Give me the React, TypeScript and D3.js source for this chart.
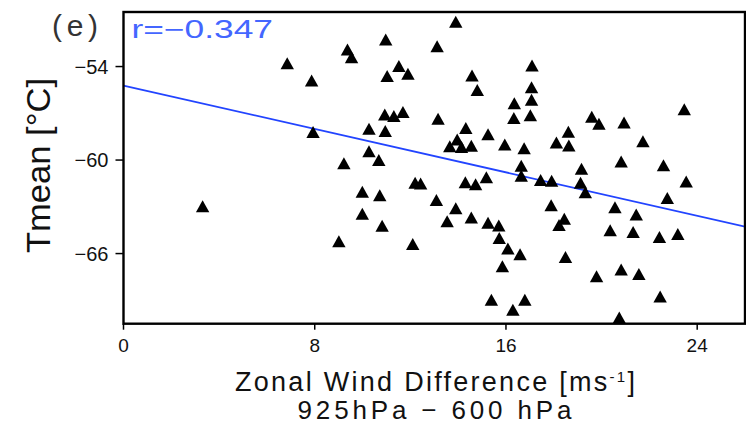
import React from "react";
import * as d3 from "d3";

// Zonal wind difference (925 hPa − 600 hPa), m/s
const windDiff = [
  3.31, 6.85, 7.87, 7.93, 9.37, 9.54, 10.27, 10.27, 10.68, 9.22,
  9.99, 9.99, 9.01, 10.72, 10.82, 10.97, 13.12, 13.9, 11.52, 11.03,
  11.9, 14.58, 14.8, 10.93, 11.31, 11.69, 10.95, 13.16, 14.32, 15.25,
  13.96, 13.65, 14.14, 14.55, 15.95, 16.76, 16.35, 16.33, 17.09, 17.07,
  17.07, 17.02, 16.64, 16.64, 12.2, 12.43, 14.3, 14.73, 15.18, 13.09,
  13.9, 13.54, 14.55, 15.25, 15.7, 15.72, 16.08, 16.59, 15.85, 12.1,
  15.39, 16.29, 16.79, 17.45, 17.91, 19.16, 19.12, 19.32, 20.82, 22.59,
  23.54, 17.89, 18.44, 18.22, 20.56, 21.45, 22.75, 20.36, 21.32, 22.42,
  23.19, 18.49, 19.79, 20.82, 21.56, 22.45, 20.74, 19.59, 19.89, 20.94,
  23.46, 18.61, 18.11, 18.63, 21.73,
];

// Mean temperature, °C
const tmean = [
  -62.97, -53.79, -54.9, -58.2, -52.91, -53.4, -57.99, -59.43, -59.99, -60.21,
  -62.04, -63.45, -65.21, -62.26, -64.22, -52.27, -52.69, -51.12, -53.97, -54.61,
  -54.47, -54.58, -55.51, -57.07, -57.17, -56.91, -58.14, -57.35, -57.95, -58.34,
  -58.68, -59.12, -59.17, -59.08, -59.0, -59.25, -56.35, -57.3, -53.94, -55.33,
  -56.13, -57.12, -60.37, -61.01, -61.45, -61.5, -61.43, -61.56, -61.11, -62.56,
  -63.1, -63.93, -63.69, -64.03, -64.2, -65.0, -65.68, -66.04, -66.81, -65.38,
  -68.97, -69.6, -68.97, -61.28, -61.32, -60.55, -61.46, -62.07, -60.09, -60.34,
  -61.37, -62.9, -63.76, -64.17, -63.03, -63.49, -62.44, -64.51, -64.61, -64.94,
  -64.74, -66.22, -67.45, -67.02, -67.31, -68.75, -70.1, -57.22, -57.67, -57.59,
  -56.74, -58.18, -58.87, -59.06, -58.79,
];

const xTicks = [0, 8, 16, 24];
const yTicks = [-54, -60, -66];

// Least-squares fit Tmean = a + b * windDiff
const fitIntercept = -55.22;
const fitSlope = -0.348;
const correlationLabel = "r=\u22120.347";

const W = 746;
const H = 425;
const plot = { left: 123.5, right: 745, top: 12, bottom: 323.7 };
const font = "'Liberation Sans', Arial, sans-serif";

export default function App() {
  const x = d3.scaleLinear().domain([0, 26]).range([plot.left, plot.right]);
  const y = d3.scaleLinear().domain([-70.5, -50.5]).range([plot.bottom, plot.top]);

  const fitLine = d3
    .line<number>()
    .x((d) => x(d))
    .y((d) => y(fitIntercept + fitSlope * d));

  const tri = (cx: number, cy: number) => {
    const p = d3.path();
    p.moveTo(cx - 6.7, cy + 6);
    p.lineTo(cx + 6.7, cy + 6);
    p.lineTo(cx, cy - 6);
    p.closePath();
    return p.toString();
  };

  return (
    <div style={{ position: "fixed", left: 0, top: 0 }}>
      <svg width={W} height={H} style={{ display: "block", background: "#fff" }}>
        <defs>
          <clipPath id="plotClip">
            <rect
              x={plot.left}
              y={plot.top}
              width={plot.right - plot.left}
              height={plot.bottom - plot.top}
            />
          </clipPath>
        </defs>

        {/* regression line */}
        <path
          d={fitLine(x.domain()) || ""}
          stroke="#2244ff"
          strokeWidth={1.8}
          fill="none"
          clipPath="url(#plotClip)"
        />

        {/* observations */}
        <g fill="#000">
          {windDiff.map((w, i) => (
            <path key={i} d={tri(x(w), y(tmean[i]))} />
          ))}
        </g>

        {/* frame */}
        <rect
          x={plot.left}
          y={plot.top}
          width={plot.right - plot.left}
          height={plot.bottom - plot.top}
          fill="none"
          stroke="#000"
          strokeWidth={2.4}
        />

        {/* y axis ticks */}
        {yTicks.map((t) => (
          <g key={t}>
            <line x1={plot.left - 8} x2={plot.left} y1={y(t)} y2={y(t)} stroke="#000" strokeWidth={1.5} />
            <text
              x={108.5}
              y={y(t) + 7}
              textAnchor="end"
              fontFamily={font}
              fontSize={20}
              fill="#111"
            >
              {"\u2212" + Math.abs(t)}
            </text>
          </g>
        ))}

        {/* x axis ticks */}
        {xTicks.map((t) => (
          <g key={t}>
            <line x1={x(t)} x2={x(t)} y1={plot.bottom} y2={plot.bottom + 6} stroke="#000" strokeWidth={1.5} />
            <text
              x={x(t)}
              y={351.7}
              textAnchor="middle"
              fontFamily={font}
              fontSize={19}
              fill="#111"
            >
              {t}
            </text>
          </g>
        ))}

        {/* panel label and correlation */}
        <text x={52} y={36} fontFamily={font} fontSize={30} fill="#333" textLength={46} lengthAdjust="spacing">
          (e)
        </text>
        <text
          x={131.5}
          y={38}
          fontFamily={font}
          fontSize={25}
          fill="#4466ff"
          textLength={141.5}
          lengthAdjust="spacingAndGlyphs"
        >
          {correlationLabel}
        </text>

        {/* axis titles */}
        <text
          transform={`translate(50,165.5) rotate(-90)`}
          textAnchor="middle"
          fontFamily={font}
          fontSize={33}
          fill="#111"
          textLength={175}
          lengthAdjust="spacingAndGlyphs"
        >
          Tmean [°C]
        </text>
        <text
          x={435}
          y={391}
          textAnchor="middle"
          fontFamily={font}
          fontSize={27}
          fill="#111"
          textLength={400}
          lengthAdjust="spacing"
        >
          Zonal Wind Difference [ms<tspan dy={-9} fontSize={15}>-1</tspan><tspan dy={9}>]</tspan>
        </text>
        <text
          x={434.5}
          y={419}
          textAnchor="middle"
          fontFamily={font}
          fontSize={26}
          fill="#111"
          textLength={274}
          lengthAdjust="spacing"
        >
          925hPa {"\u2212"} 600 hPa
        </text>
      </svg>
    </div>
  );
}
